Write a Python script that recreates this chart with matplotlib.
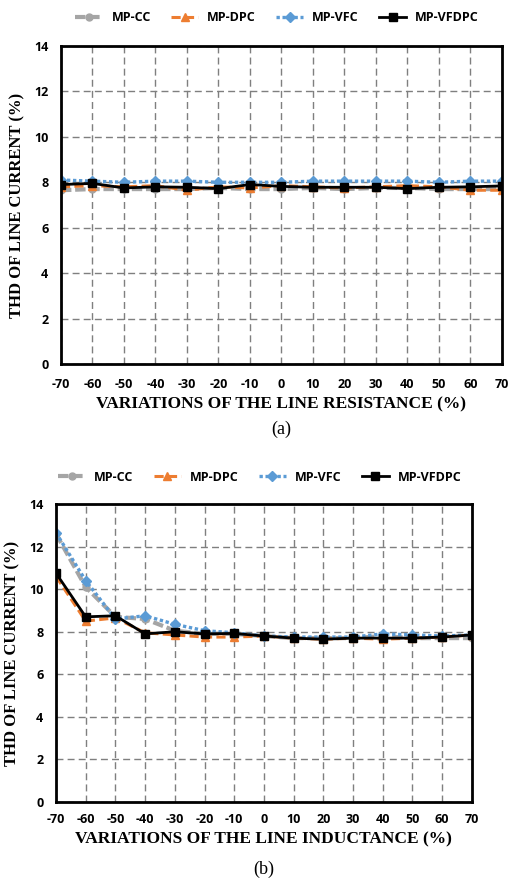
import matplotlib.pyplot as plt

plt.rcParams['axes.unicode_minus'] = False

variazioni = [-70, -60, -50, -40, -30, -20, -10, 0, 10, 20, 30, 40, 50, 60, 70]
nomi = ['MP-CC', 'MP-DPC', 'MP-VFC', 'MP-VFDPC']

# (a) variazione della resistenza di linea
res_cc = [7.65, 7.7, 7.7, 7.7, 7.7, 7.75, 7.7, 7.7, 7.75, 7.7, 7.75, 7.75, 7.7, 7.7, 7.7]
res_dpc = [7.8, 7.85, 7.8, 7.85, 7.65, 7.8, 7.75, 7.85, 7.8, 7.75, 7.8, 7.85, 7.8, 7.65, 7.65]
res_vfc = [8.1, 8.05, 8.0, 8.05, 8.05, 8.0, 8.0, 8.0, 8.05, 8.05, 8.05, 8.05, 8.0, 8.05, 8.05]
res_vfdpc = [7.9, 7.95, 7.75, 7.8, 7.78, 7.72, 7.9, 7.82, 7.78, 7.78, 7.78, 7.72, 7.78, 7.8, 7.84]

# (b) variazione dell'induttanza di linea
ind_cc = [12.6, 10.1, 8.7, 8.6, 8.05, 7.9, 7.9, 7.8, 7.7, 7.7, 7.7, 7.8, 7.7, 7.7, 7.7]
ind_dpc = [10.6, 8.5, 8.65, 7.95, 7.85, 7.75, 7.75, 7.8, 7.7, 7.65, 7.7, 7.65, 7.7, 7.75, 7.85]
ind_vfc = [12.65, 10.4, 8.6, 8.75, 8.35, 8.05, 7.95, 7.8, 7.75, 7.75, 7.75, 7.9, 7.85, 7.8, 7.85]
ind_vfdpc = [10.75, 8.7, 8.75, 7.9, 8.0, 7.9, 7.92, 7.8, 7.7, 7.65, 7.7, 7.7, 7.7, 7.75, 7.85]

stili = [
    dict(color='#A5A5A5', linestyle=(0, (2.5, 0.9)), marker='o', linewidth=3, markersize=5),
    dict(color='#ED7D31', linestyle=(0, (3, 1.4)), marker='^', linewidth=2.2, markersize=6),
    dict(color='#5B9BD5', linestyle=(0, (1, 0.8)), marker='D', linewidth=2.4, markersize=5),
    dict(color='black', linestyle='-', marker='s', linewidth=2, markersize=6),
]

sans = ['Open Sans', 'DejaVu Sans']
serif = ['Liberation Serif', 'DejaVu Serif']

fig = plt.figure(figsize=(5.09, 8.83), dpi=100)


def disegna(ax, serie, xlabel, lettera, caption, leg_y, leg_x, pad):
    for y, nome, st in zip(serie, nomi, stili):
        ax.plot(variazioni, y, label=nome, **st)
    ax.set_xlim(-70, 70)
    ax.set_ylim(0, 14)
    ax.set_xticks(variazioni)
    ax.set_yticks(range(0, 15, 2))
    ax.grid(True, color='#7f7f7f', linestyle=(0, (5, 3)), linewidth=1)
    ax.tick_params(axis='x', length=0, pad=pad)
    ax.tick_params(axis='y', length=0, pad=9)
    for lab in ax.get_xticklabels() + ax.get_yticklabels():
        lab.set_family(sans)
        lab.set_fontweight('bold')
        lab.set_fontsize(9)
    for sp in ax.spines.values():
        sp.set_linewidth(2)
    ax.set_xlabel(xlabel, family=serif, fontweight='bold', fontsize=12.5, labelpad=4)
    ax.set_ylabel('THD OF LINE CURRENT (%)', family=serif, fontweight='bold',
                  fontsize=12, labelpad=6)
    ax.text(0.5, caption, lettera, transform=ax.transAxes, ha='center', va='center',
            family=serif, fontsize=13)
    ax.legend(loc='center', bbox_to_anchor=(leg_x, leg_y), ncol=4, frameon=False,
              prop={'family': sans, 'weight': 'bold', 'size': 9},
              handlelength=2.2, columnspacing=1.6, handletextpad=0.7)


ax1 = fig.add_axes([0.1198, 0.5878, 0.8664, 0.3601])
disegna(ax1, [res_cc, res_dpc, res_vfc, res_vfdpc],
        'VARIATIONS OF THE LINE RESISTANCE (%)', '(a)', -0.207, 1.09, 0.49, 10)

ax2 = fig.add_axes([0.110, 0.0917, 0.817, 0.3375])
disegna(ax2, [ind_cc, ind_dpc, ind_vfc, ind_vfdpc],
        'VARIATIONS OF THE LINE INDUCTANCE (%)', '(b)', -0.225, 1.09, 0.49, 8)

fig.savefig('out.png', dpi=100)
